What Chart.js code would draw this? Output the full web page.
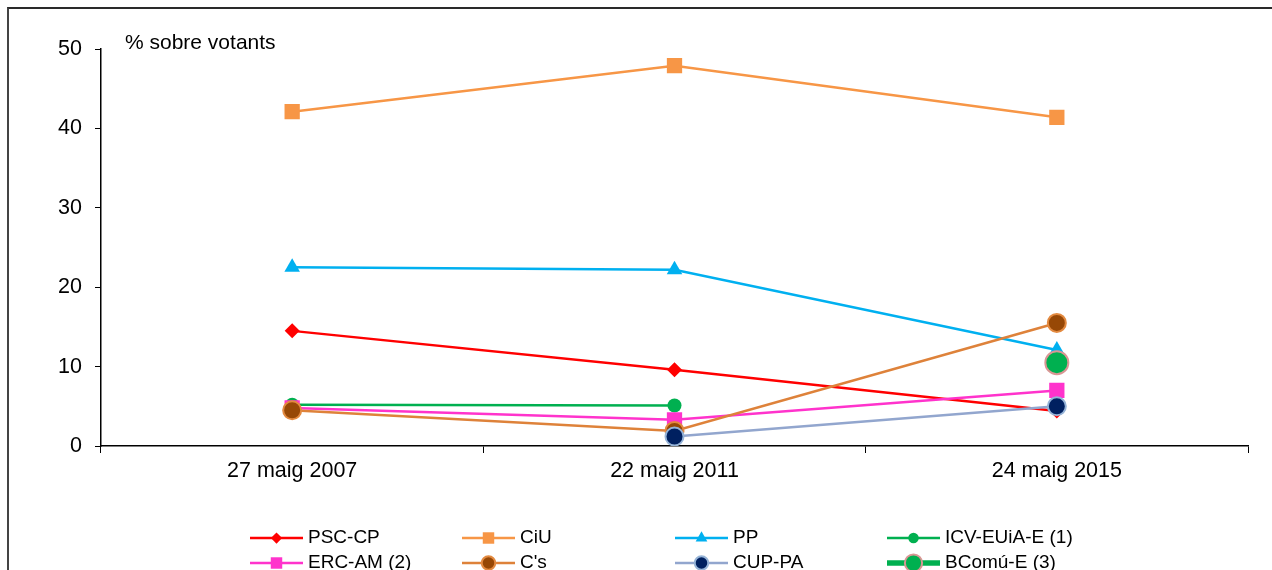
<!DOCTYPE html>
<html>
<head>
<meta charset="utf-8">
<script src="https://cdn.jsdelivr.net/npm/chart.js@4"></script>
<style>
  html, body { margin: 0; padding: 0; background: #fff; }
  #wrap { position: relative; width: 1272px; height: 570px; overflow: hidden; }
  #frame { position: absolute; left: 7px; top: 7px; width: 1400px; height: 700px;
           border-top: 2px solid #2a2a2a; border-left: 2px solid #444; }
  #chart { position: absolute; left: 0; top: 0; }
</style>
</head>
<body>
<div id="wrap">
  <div id="frame"></div>
  <canvas id="chart" width="1272" height="570"></canvas>
</div>
<script>
"use strict";

// ---------- Data ----------
const dates = ["27 maig 2007", "22 maig 2011", "24 maig 2015"];
const yTicks = [0, 10, 20, 30, 40, 50];
const yTitle = "% sobre votants";

const pscCp = [14.5, 9.6, 4.4];
const ciu = [42.1, 47.9, 41.4];
const pp = [22.5, 22.2, 12.1];
const icvEuia = [5.2, 5.1, null];
const ercAm = [4.8, 3.3, 7.0];
const cs = [4.5, 1.9, 15.5];
const cupPa = [null, 1.2, 5.0];
const bcomu = [null, null, 10.5];

const FONT = "'Liberation Sans', Arial, sans-serif";

// ---------- Series styles ----------
function series(label, data, line, style, radius, fill, border, borderW, legendLine) {
  return {
    label, data,
    borderColor: line, borderWidth: 2.5,
    pointStyle: style, pointRadius: radius, pointHoverRadius: radius,
    pointBackgroundColor: fill, pointBorderColor: border, pointBorderWidth: borderW,
    tension: 0, spanGaps: false, fill: false,
    legendLine: legendLine || 2.5,
  };
}

const datasets = [
  series("PSC-CP", pscCp, "#FF0000", "rectRot", 7.5, "#FF0000", "#FF0000", 0),
  series("CiU", ciu, "#F79646", "rect", 10.8, "#F79646", "#F79646", 0),
  series("PP", pp, "#00B0F0", "triangle", 9, "#00B0F0", "#00B0F0", 0),
  series("ICV-EUiA-E (1)", icvEuia, "#00B050", "circle", 7, "#00B050", "#00B050", 0),
  series("ERC-AM (2)", ercAm, "#FF33CC", "rect", 10.8, "#FF33CC", "#FF33CC", 0),
  series("C's", cs, "#DE823A", "circle", 9, "#974806", "#E38A40", 2),
  series("CUP-PA", cupPa, "#92A6CE", "circle", 9, "#002060", "#95B3D7", 2),
  series("BComú-E (3)", bcomu, "#00B050", "circle", 11.5, "#00B050", "#D99694", 2, 5.5),
];
// later series drawn on top
datasets.forEach((d, i) => { d.order = datasets.length - i; });

// ---------- Plugins ----------
const extras = {
  id: "extras",
  afterDraw(chart) {
    const ctx = chart.ctx;
    ctx.save();
    // y title
    ctx.fillStyle = "#000";
    ctx.font = `21px ${FONT}`;
    ctx.textAlign = "left";
    ctx.textBaseline = "middle";
    ctx.fillText(yTitle, 125, 43);

    // legend, 4 columns x 2 rows
    const colX = [250, 462, 675, 887];
    const rowY = [538, 563];
    const lineLen = 53;
    ctx.font = `19px ${FONT}`;
    datasets.forEach((d, i) => {
      const x = colX[i % 4], y = rowY[Math.floor(i / 4)];
      ctx.strokeStyle = d.borderColor;
      ctx.lineWidth = d.legendLine;
      ctx.beginPath();
      ctx.moveTo(x, y);
      ctx.lineTo(x + lineLen, y);
      ctx.stroke();
      ctx.fillStyle = d.pointBackgroundColor;
      ctx.strokeStyle = d.pointBorderColor;
      ctx.lineWidth = d.pointBorderWidth;
      Chart.helpers.drawPoint(ctx, {
        pointStyle: d.pointStyle, radius: d.pointRadius * 0.75, rotation: 0,
        borderWidth: d.pointBorderWidth,
      }, x + lineLen / 2, y);
      ctx.fillStyle = "#000";
      ctx.fillText(d.label, x + lineLen + 5, y);
    });
    ctx.restore();
  },
};

// ---------- Chart ----------
new Chart(document.getElementById("chart"), {
  type: "line",
  data: { labels: dates, datasets },
  plugins: [extras],
  options: {
    responsive: false,
    animation: false,
    devicePixelRatio: 1,
    layout: { padding: { top: 49, right: 24, left: 0, bottom: 0 } },
    plugins: { legend: { display: false }, tooltip: { enabled: false } },
    events: [],
    scales: {
      x: {
        type: "category",
        offset: true,
        grid: { offset: true, drawOnChartArea: false, tickLength: 7, color: "#000", lineWidth: 1 },
        border: { color: "#000", width: 1.5 },
        ticks: { color: "#000", font: { family: FONT, size: 21.5 }, padding: 5, maxRotation: 0 },
        afterFit(scale) { scale.height = 124; },
      },
      y: {
        min: yTicks[0],
        max: yTicks[yTicks.length - 1],
        afterBuildTicks(scale) { scale.ticks = yTicks.map((v) => ({ value: v })); },
        grid: { drawOnChartArea: false, tickLength: 6, color: "#000", lineWidth: 1 },
        border: { color: "#000", width: 1.5 },
        ticks: { color: "#000", font: { family: FONT, size: 21.5 }, padding: 13 },
        afterFit(scale) { scale.width = 101; },
      },
    },
  },
});
</script>
</body>
</html>
